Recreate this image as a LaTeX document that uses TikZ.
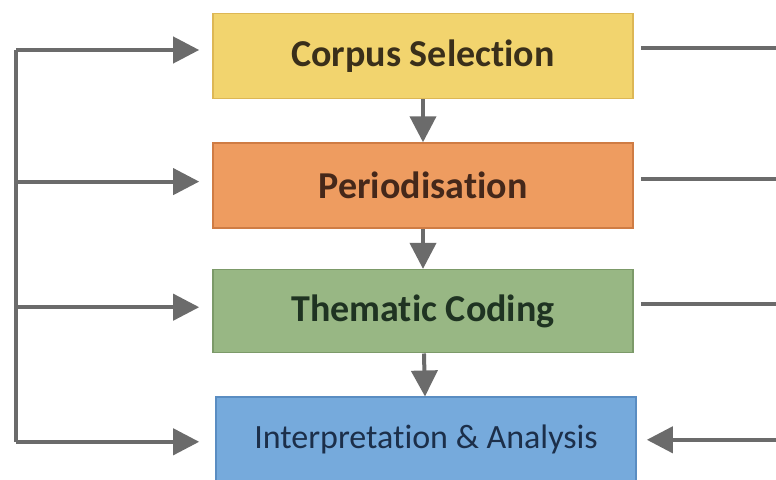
\documentclass[tikz,border=0pt]{standalone}
\usepackage{fontspec}
\setmainfont{Carlito}[Ligatures=NoCommon]
\usepackage{tikz}
\usetikzlibrary{arrows.meta, positioning, calc}
\definecolor{CorpusFill}{HTML}{F2D46E}
\definecolor{CorpusLine}{HTML}{DDB755}
\definecolor{CorpusText}{HTML}{3A2F1A}
\definecolor{PeriodFill}{HTML}{EE9C60}
\definecolor{PeriodLine}{HTML}{CF7C44}
\definecolor{PeriodText}{HTML}{45281A}
\definecolor{ThemeFill}{HTML}{98B784}
\definecolor{ThemeLine}{HTML}{7C9A69}
\definecolor{ThemeText}{HTML}{1F3322}
\definecolor{InterpFill}{HTML}{76AADC}
\definecolor{InterpLine}{HTML}{5A8DC2}
\definecolor{InterpText}{HTML}{1C2F4A}
\definecolor{LinkGrey}{HTML}{6B6B6B}

\begin{document}
\begin{tikzpicture}[
  x=0.5pt, y=-0.5pt,
  node distance=21.5pt,
  stagebox/.style={rectangle, line width=0.8pt, minimum width=210pt, minimum height=42.5pt, inner sep=0pt, font=\fontsize{19}{22}\selectfont\bfseries},
  corpusbox/.style={stagebox, draw=CorpusLine, fill=CorpusFill, text=CorpusText},
  periodbox/.style={stagebox, draw=PeriodLine, fill=PeriodFill, text=PeriodText},
  themebox/.style={stagebox, draw=ThemeLine, fill=ThemeFill, text=ThemeText, minimum height=41.5pt},
  interpbox/.style={stagebox, draw=InterpLine, fill=InterpFill, text=InterpText, font=\fontsize{17}{20}\selectfont},
  link/.style={line width=2pt, LinkGrey},
  arrow/.style={link, -{Triangle[length=13pt, width=13pt]}}
]
  \useasboundingbox (0,0) rectangle (776,480);

  % Stages
  \node[corpusbox] (corpus) at (423,56) {Corpus Selection};
  \node[periodbox, below=of corpus] (period) {Periodisation};
  \node[themebox, below=20pt of period] (theme) {Thematic Coding};
  \node[interpbox, below=of theme, xshift=1.5pt] (interp) {Interpretation \& Analysis};

  % Bus and edge
  \coordinate (bus) at (16,0);
  \coordinate (edge) at (776,0);

  % Main flow
  \draw[arrow] (corpus) -- (period);
  \draw[arrow] (period) -- (theme);
  \draw[arrow] (theme) -- (interp);

  % Feedback from left
  \draw[link] ($(bus |- corpus.west)+(0,-6)$) -- ($(bus |- interp.west)+(0,2)$);
  \draw[arrow] ($(bus |- corpus.west)+(0,-6)$) -- ($(corpus.west)+(-13,-6)$);
  \draw[arrow] ($(bus |- period.west)+(0,-4)$) -- ($(period.west)+(-13,-4)$);
  \draw[arrow] ($(bus |- theme.west)+(0,-4)$) -- ($(theme.west)+(-13,-4)$);
  \draw[arrow] ($(bus |- interp.west)+(0,2)$) -- ($(interp.west)+(-16,2)$);

  % Lines to the right
  \draw[link] ($(corpus.east)+(7,-8)$) -- ($(edge |- corpus.east)+(0,-8)$);
  \draw[link] ($(period.east)+(7,-7)$) -- ($(edge |- period.east)+(0,-7)$);
  \draw[link] ($(theme.east)+(7,-7)$) -- ($(edge |- theme.east)+(0,-7)$);
  \draw[arrow] ($(edge |- interp.east)+(0,0)$) -- ($(interp.east)+(10,0)$);
\end{tikzpicture}
\end{document}
